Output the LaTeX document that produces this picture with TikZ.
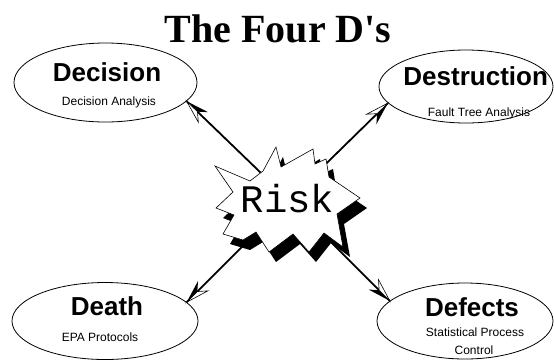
\documentclass[tikz,border=0pt]{standalone}
\usepackage{fontspec}
\setmainfont{Liberation Serif}
\newfontfamily\titlefont{Liberation Serif}[Ligatures=TeXOff]
\newfontfamily\labelfont{Liberation Sans}
\newfontfamily\riskfont{Liberation Mono}
\usetikzlibrary{shapes.geometric,decorations.markings}

\tikzset{
  oval/.style={draw, ellipse, line width=0.8pt, inner sep=0pt},
  headline/.style={font=\labelfont\bfseries\fontsize{26}{28}\selectfont, anchor=base, inner sep=0pt},
  subline/.style={font=\labelfont\fontsize{12}{13}\selectfont, anchor=base, inner sep=0pt},
  % shaft with a two-tone head: dark barb on the right, open barb on the left
  link/.style={line width=1.8pt,
    decoration={markings, mark=at position 1 with {
      \fill[black] (0pt,0pt) -- (-23pt,-7pt) -- (-15pt,0pt) -- cycle;
      \filldraw[fill=white, draw=black, line width=0.6pt, line join=miter]
        (0pt,0pt) -- (-23pt,7pt) -- (-15pt,0pt) -- cycle;}},
    postaction={decorate}},
  burst/.pic={
    \path[pic actions] (215,166) -- (250,181) -- (263,171) -- (276,147)
      -- (281,167) -- (313,149) -- (315,164) -- (326,159) -- (329,177)
      -- (360,198) -- (337,214) -- (343,247) -- (324,233) -- (309,252)
      -- (293,234) -- (269,252) -- (256,232) -- (243,240) -- (223,234)
      -- (234,215) -- (216,208) -- (233,192) -- cycle;
  }
}

\begin{document}
\begin{tikzpicture}[x=1pt, y=-1pt]
\useasboundingbox (0,0) rectangle (554,360);

% title
\node[font=\titlefont\bfseries\fontsize{40}{42}\selectfont, anchor=base, inner sep=0pt]
  (title) at (278,42) {The Four D's};

% the four outcome ovals
\node[oval, minimum width=183pt, minimum height=79pt] (dec) at (105.5,82.5) {};
\node[oval, minimum width=174pt, minimum height=73pt] (des) at (466,86.5) {};
\node[oval, minimum width=186pt, minimum height=77pt] (dea) at (105,321) {};
\node[oval, minimum width=176pt, minimum height=76pt] (def) at (465,321) {};

\node[headline] (decH) at (107,81.7) {Decision};
\node[subline]  (decS) at (109,105.7) {Decision Analysis};
\node[headline] (desH) at (475.7,85) {Destruction};
\node[subline]  (desS) at (479,116) {Fault Tree Analysis};
\node[headline] (deaH) at (107,315) {Death};
\node[subline]  (deaS) at (100,341.7) {EPA Protocols};
\node[headline] (defH) at (472,316.7) {Defects};
\node[subline]  (defS1) at (475,336.7) {Statistical Process};
\node[subline]  (defS2) at (474,354) {Control};

% connectors from the hub out to each oval
\coordinate (hub) at (289,200);
\draw[link] (hub) -- (dec.347.3);
\draw[link] (hub) -- (des.192.2);
\draw[link] (hub) -- (dea.13);
\draw[link] (hub) -- (def.165.9);

% explosion with drop shadow
\pic[fill=black] at (7,10) {burst};
\pic[fill=white, draw=black, line width=0.6pt, line join=miter] at (0,0) {burst};
\node[font=\riskfont\fontsize{39}{40}\selectfont, anchor=base, inner sep=0pt]
  (risk) at (287.5,212) {Risk};
\end{tikzpicture}
\end{document}
